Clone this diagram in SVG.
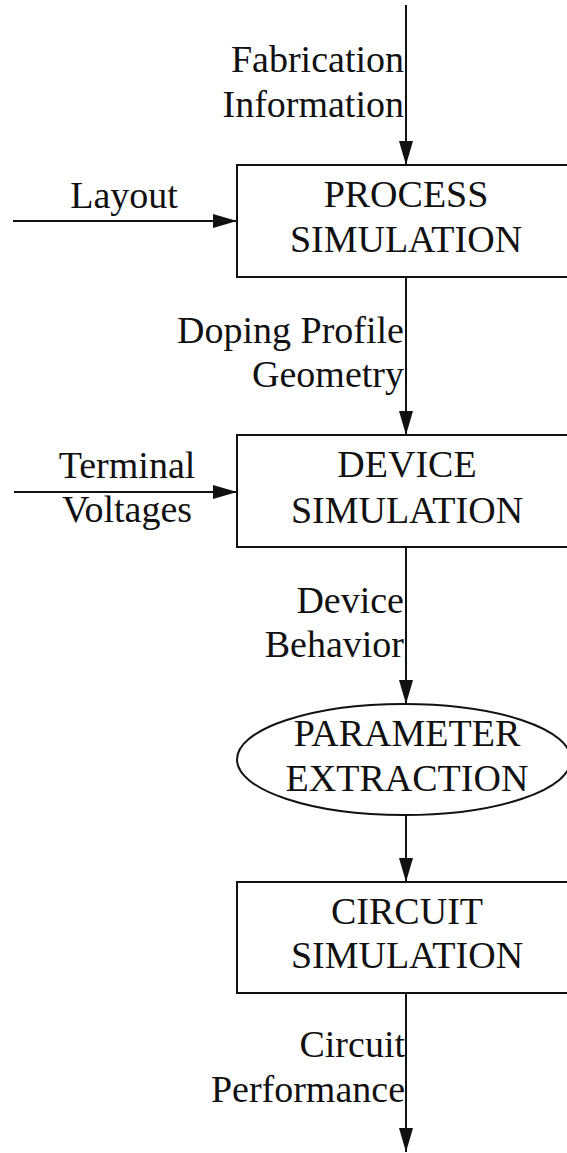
<svg xmlns="http://www.w3.org/2000/svg" width="567" height="1153" viewBox="0 0 567 1153">
<style>
text{font-family:"Liberation Serif","Times New Roman",serif;font-size:38px;fill:#111}
.lbl{text-anchor:end}
.c{text-anchor:middle}
.shape{fill:none;stroke:#111;stroke-width:2}
.conn{stroke:#111;stroke-width:2;fill:none}
</style>
<defs>
<marker id="arr" markerUnits="userSpaceOnUse" markerWidth="24" markerHeight="14" refX="24" refY="7" orient="auto">
<path d="M0,0 L24,7 L0,14 z" fill="#111"/>
</marker>
</defs>
<rect width="567" height="1153" fill="#fff"/>
<g id="connectors">
<line class="conn" x1="406" y1="5" x2="406" y2="165" marker-end="url(#arr)"/>
<line class="conn" x1="13" y1="221" x2="237" y2="221" marker-end="url(#arr)"/>
<line class="conn" x1="406" y1="277" x2="406" y2="435" marker-end="url(#arr)"/>
<line class="conn" x1="14" y1="492" x2="237" y2="492" marker-end="url(#arr)"/>
<line class="conn" x1="406" y1="547" x2="406" y2="704" marker-end="url(#arr)"/>
<line class="conn" x1="406" y1="815" x2="406" y2="882" marker-end="url(#arr)"/>
<line class="conn" x1="406" y1="993" x2="406" y2="1152" marker-end="url(#arr)"/>
<text class="lbl" x="404" y="72">Fabrication</text>
<text class="lbl" x="404" y="117">Information</text>
<text class="c" x="124" y="208">Layout</text>
<text class="lbl" x="404" y="343">Doping Profile</text>
<text class="lbl" x="404" y="387">Geometry</text>
<text class="c" x="127" y="478">Terminal</text>
<text class="c" x="127" y="522">Voltages</text>
<text class="lbl" x="404" y="613">Device</text>
<text class="lbl" x="404" y="657">Behavior</text>
<text class="lbl" x="405" y="1057">Circuit</text>
<text class="lbl" x="405" y="1102">Performance</text>
</g>
<g id="process">
<rect class="shape" x="237" y="165" width="340" height="112"/>
<text class="c" x="406" y="207">PROCESS</text>
<text class="c" x="406" y="252">SIMULATION</text>
</g>
<g id="device">
<rect class="shape" x="237" y="435" width="340" height="112"/>
<text class="c" x="407" y="477">DEVICE</text>
<text class="c" x="407" y="523">SIMULATION</text>
</g>
<g id="parameter">
<ellipse class="shape" cx="404" cy="759.5" rx="167" ry="55.5"/>
<text class="c" x="407" y="746">PARAMETER</text>
<text class="c" x="407" y="791">EXTRACTION</text>
</g>
<g id="circuit">
<rect class="shape" x="237" y="882" width="340" height="111"/>
<text class="c" x="407" y="924">CIRCUIT</text>
<text class="c" x="407" y="968">SIMULATION</text>
</g>
</svg>
